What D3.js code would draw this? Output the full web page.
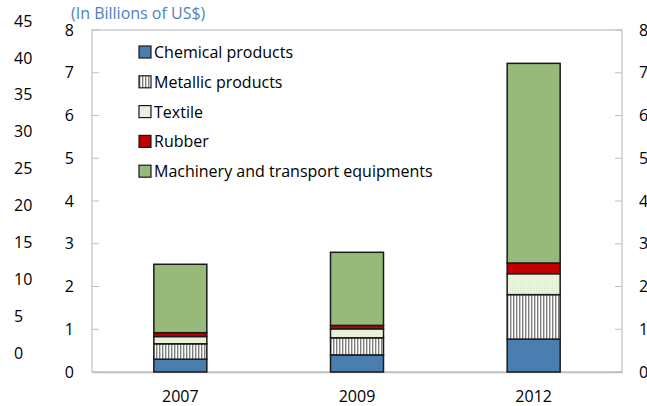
<!DOCTYPE html>
<html>
<head>
<meta charset="utf-8">
<script src="https://cdn.jsdelivr.net/npm/d3@7"></script>
<style>
body{margin:0;background:#fff;}
svg{display:block;font-family:"Open Sans",sans-serif;}
</style>
</head>
<body>
<svg id="chart" width="647" height="406"></svg>
<script>
// data (billions of US$)
var years=["2007","2009","2012"];
var seriesNames=["Chemical products","Metallic products","Textile","Rubber","Machinery and transport equipments"];
var chemical=[0.30,0.40,0.77];
var metallic=[0.36,0.40,1.04];
var textile=[0.17,0.21,0.49];
var rubber=[0.09,0.08,0.25];
var machinery=[1.60,1.71,4.67];
var leftTicks=[0,1,2,3,4,5,6,7,8];
var outerTicks=[0,5,10,15,20,25,30,35,40,45];

var svg=d3.select("#chart");
var m={l:92,r:622,t:30,b:372};

var x=d3.scaleBand().domain(years).range([m.l,m.r]).paddingInner(0.7).paddingOuter(0.35);
var y=d3.scaleLinear().domain([0,8]).range([m.b,m.t]);
var yOuter=d3.scaleLinear().domain([0,45]).range([353,21]);

var rows=years.map(function(yr,i){
	return {year:yr,s0:chemical[i],s1:metallic[i],s2:textile[i],s3:rubber[i],s4:machinery[i]};
});
var keys=["s0","s1","s2","s3","s4"];
var stacked=d3.stack().keys(keys)(rows);

/*patterns*/
var defs=svg.append("defs");
var stripe=defs.append("pattern").attr("id","stripe").attr("patternUnits","userSpaceOnUse")
	.attr("width",3).attr("height",3);
stripe.append("rect").attr("width",3).attr("height",3).attr("fill","#fff");
stripe.append("rect").attr("width",1.4).attr("height",3).attr("fill","#7f7f7f");
var dots=defs.append("pattern").attr("id","dots").attr("patternUnits","userSpaceOnUse")
	.attr("width",2).attr("height",2);
dots.append("rect").attr("width",2).attr("height",2).attr("fill","#eef3e6");
dots.append("rect").attr("width",1).attr("height",1).attr("fill","#dde7cf");

var fills=["#4a7eae","url(#stripe)","url(#dots)","#c00000","#97b97a"];

// title, at the very top edge
svg.append("text").attr("x",71).attr("y",19).attr("fill","#4f81bd")
	.style("font-size","16px").text("(In Billions  of US$)");

// frame
svg.append("rect").attr("x",m.l).attr("y",m.t).attr("width",m.r-m.l).attr("height",m.b-m.t)
	.attr("fill","none").attr("stroke","#bfbfbf").attr("stroke-width",1.2);

// inner ticks left and right
var tg=svg.append("g");
leftTicks.forEach(function(t){
	tg.append("line").attr("x1",m.l).attr("x2",m.l+7).attr("y1",y(t)).attr("y2",y(t)).attr("stroke","#bfbfbf");
	tg.append("line").attr("x1",m.r-7).attr("x2",m.r).attr("y1",y(t)).attr("y2",y(t)).attr("stroke","#bfbfbf");
});

function styleAxis(g){
	g.select(".domain").remove();
	g.selectAll("text").style("font-size","16px").style("font-family","Open Sans").attr("fill","#000");
}

var leftAxis=d3.axisLeft(y).tickValues(leftTicks).tickSize(0).tickPadding(0);
svg.append("g").attr("transform","translate(74,0)").call(leftAxis).call(styleAxis);

var rightAxis=d3.axisRight(y).tickValues(leftTicks).tickSize(0).tickPadding(0);
svg.append("g").attr("transform","translate(639,0)").call(rightAxis).call(styleAxis);

var outerAxis=d3.axisRight(yOuter).tickValues(outerTicks).tickSize(0).tickPadding(0);
svg.append("g").attr("transform","translate(14,0)").call(outerAxis).call(styleAxis);

var xAxis=d3.axisBottom(x).tickSize(0).tickPadding(19);
var xa=svg.append("g").attr("transform","translate(0,"+m.b+")").call(xAxis);
xa.selectAll("text").style("font-size","16px").style("font-family","Open Sans").attr("fill","#000");
xa.select(".domain").attr("stroke","#bfbfbf").attr("stroke-width",1.5);

// bars
svg.selectAll(".layer").data(stacked).enter().append("g").attr("class","layer")
	.attr("fill",function(d,i){return fills[i];})
	.selectAll("rect").data(function(d){return d;}).enter().append("rect")
	.attr("x",function(d){return x(d.data.year);})
	.attr("width",x.bandwidth())
	.attr("y",function(d){return y(d[1]);})
	.attr("height",function(d){return y(d[0])-y(d[1]);})
	.attr("stroke","#1a1a1a").attr("stroke-width",1.5);

// legend
var lg=svg.append("g").attr("transform","translate(139,46)");
seriesNames.forEach(function(name,i){
	var row=lg.append("g").attr("transform","translate(0,"+(i*29.8)+")");
	row.append("rect").attr("width",12).attr("height",12).attr("fill",fills[i])
		.attr("stroke","#1a1a1a").attr("stroke-width",1.2);
	row.append("text").attr("x",15).attr("y",12).style("font-size","16px").text(name);
});
</script>
</body>
</html>
